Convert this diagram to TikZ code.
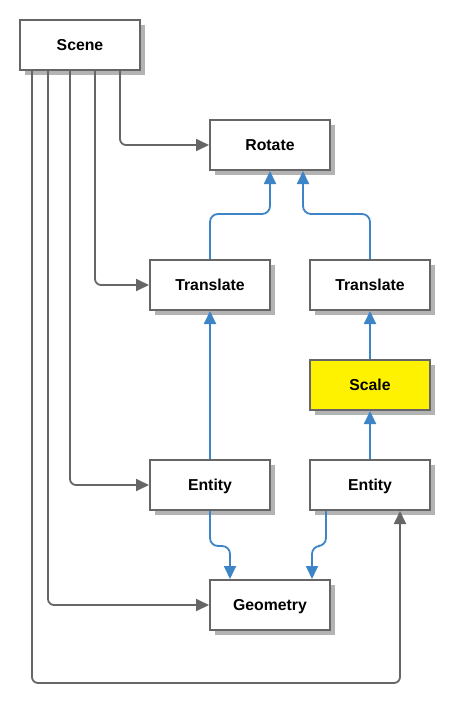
\documentclass[tikz,border=0pt]{standalone}
\usepackage{fontspec}
\setmainfont{Liberation Sans}
\usetikzlibrary{arrows.meta,shadows}
\definecolor{lgray}{HTML}{666666}
\definecolor{lblue}{HTML}{3D85C6}
\definecolor{shad}{HTML}{B3B3B3}
\tikzset{
  box/.style={draw=lgray, line width=2pt, fill=white, minimum width=120pt, minimum height=50pt, inner sep=0pt,
    font=\fontsize{15.8}{18}\selectfont\bfseries, text height=11pt, text depth=0pt,
    drop shadow={shadow xshift=5pt, shadow yshift=-5pt, opacity=1, fill=shad, draw=none}},
  garrow/.style={draw=lgray, line width=1.8pt, rounded corners=6pt, -{Triangle[length=13pt,width=12pt]}},
  barrow/.style={draw=lblue, line width=1.8pt, rounded corners=8pt, -{Triangle[length=13pt,width=12pt]}}
}
\begin{document}
\begin{tikzpicture}[x=1pt,y=-1pt]
\useasboundingbox[fill=white] (0,0) rectangle (450,707);
\node[box] (scene) at (80,45) {Scene};
\node[box] (rotate) at (270,145) {Rotate};
\node[box] (t1) at (210,285) {Translate};
\node[box] (t2) at (370,285) {Translate};
\node[box, fill=yellow] (scale) at (370,385) {Scale};
\node[box] (e1) at (210,485) {Entity};
\node[box] (e2) at (370,485) {Entity};
\node[box] (geo) at (270,605) {Geometry};
\coordinate (bot) at (400,683);
% gray edges from Scene
\draw[garrow] ([xshift=40pt]scene.south) |- (rotate.west);
\draw[garrow] ([xshift=15pt]scene.south) |- (t1.west);
\draw[garrow] ([xshift=-10pt]scene.south) |- (e1.west);
\draw[garrow] ([xshift=-32pt]scene.south) |- (geo.west);
\draw[garrow] ([xshift=-48pt]scene.south) |- (bot) -- ([xshift=30pt]e2.south);
% blue edges
\draw[barrow] (t1.north) -- ++(0,-45) -| (rotate.south);
\draw[barrow] (t2.north) -- ++(0,-45) -| ([xshift=33pt]rotate.south);
\draw[barrow] (scale.north) -- (t2.south);
\draw[barrow] (e2.north) -- (scale.south);
\draw[barrow] (e1.north) -- (t1.south);
\draw[barrow] (e1.south) -- ++(0,35) -| ([xshift=-40pt]geo.north);
\draw[barrow] ([xshift=-44pt]e2.south) -- ++(0,35) -| ([xshift=42pt]geo.north);
\end{tikzpicture}
\end{document}
